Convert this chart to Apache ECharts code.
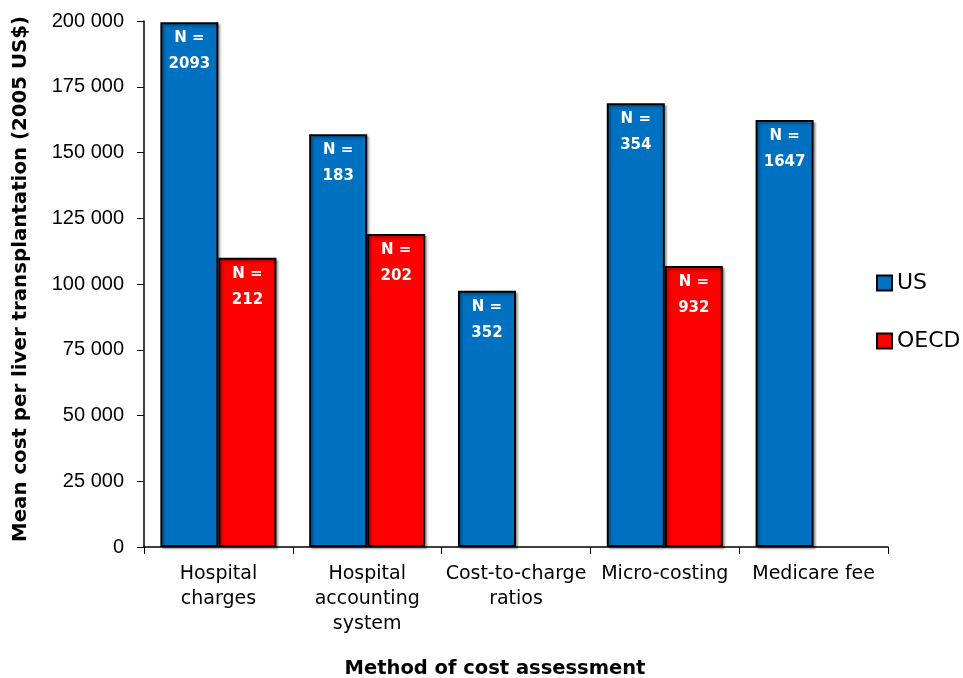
<!DOCTYPE html>
<html>
<head>
<meta charset="utf-8">
<script src="https://cdn.jsdelivr.net/npm/echarts@6/dist/echarts.min.js"></script>
<style>
  html, body { margin: 0; padding: 0; background: #fff; }
  #chart { width: 963px; height: 678px; }
</style>
</head>
<body>
<div id="chart"></div>
<script>
// Assessment methods along the x axis
const categories = [
  'Hospital\ncharges',
  'Hospital\naccounting\nsystem',
  'Cost-to-charge\nratios',
  'Micro-costing',
  'Medicare fee'
];
// Mean cost per liver transplantation (2005 US$)
const usCost   = [199500, 156900, 97450, 168700, 162350];
const oecdCost = [110000, 119000, null, 106850, null];
// Sample sizes printed inside each bar
const usN   = [2093, 183, 352, 354, 1647];
const oecdN = [212, 202, null, 932, null];
const yTicks = [0, 25000, 50000, 75000, 100000, 125000, 150000, 175000, 200000];

const fmtThousands = v => String(v).replace(/\B(?=(\d{3})+(?!\d))/g, ' ');

const barLabel = (nArr) => ({
  show: true,
  position: 'insideTop',
  distance: 3,
  color: '#fff',
  fontFamily: 'DejaVu Sans',
  fontWeight: 'bold',
  fontSize: 15,
  lineHeight: 26,
  formatter: p => nArr[p.dataIndex] == null ? '' : 'N =\n' + nArr[p.dataIndex]
});

const barStyle = (color) => ({
  color: color,
  borderColor: '#000',
  borderWidth: 2,
  shadowColor: 'rgba(0,0,0,0.3)',
  shadowOffsetX: 2,
  shadowOffsetY: 2,
  shadowBlur: 2
});

const chart = echarts.init(document.getElementById('chart'), null, { renderer: 'canvas' });
chart.setOption({
  animation: false,
  backgroundColor: '#fff',
  grid: {
    left: 144, right: 75, top: 21, bottom: 131,
    containLabel: false,
    outerBoundsMode: 'none'
  },
  legend: {
    orient: 'vertical',
    left: 871,
    top: 267,
    itemWidth: 15,
    itemHeight: 15,
    itemGap: 36,
    icon: 'rect',
    textStyle: { fontFamily: 'DejaVu Sans', fontSize: 22, color: '#000' },
    data: [
      { name: 'US', itemStyle: { color: '#0070C0', borderColor: '#000', borderWidth: 2 } },
      { name: 'OECD', itemStyle: { color: '#FF0000', borderColor: '#000', borderWidth: 2 } }
    ]
  },
  xAxis: {
    type: 'category',
    data: categories,
    name: 'Method of cost assessment',
    nameLocation: 'middle',
    nameGap: 112,
    nameTextStyle: {
      fontFamily: 'DejaVu Sans', fontWeight: 'bold', fontSize: 19.5, color: '#000',
      padding: [0, 42, 0, 0]
    },
    axisLine: { lineStyle: { color: '#000', width: 1.5 } },
    axisTick: { show: true, length: 7, lineStyle: { color: '#000' } },
    axisLabel: {
      fontFamily: 'DejaVu Sans', fontSize: 19, color: '#000',
      lineHeight: 25, margin: 15, interval: 0
    }
  },
  yAxis: {
    type: 'value',
    min: 0,
    max: 200000,
    interval: 25000,
    name: 'Mean cost per liver transplantation (2005 US$)',
    nameLocation: 'middle',
    nameGap: 113,
    nameTextStyle: {
      fontFamily: 'DejaVu Sans', fontWeight: 'bold', fontSize: 19.8, color: '#000',
      padding: [0, 0, 0, 10]
    },
    axisLine: { show: true, lineStyle: { color: '#000', width: 1.5 } },
    axisTick: { show: true, length: 7, lineStyle: { color: '#000' } },
    splitLine: { show: false },
    axisLabel: {
      fontFamily: 'Liberation Sans', fontSize: 20, color: '#000', margin: 20,
      formatter: v => yTicks.indexOf(v) >= 0 ? fmtThousands(v) : ''
    }
  },
  series: [
    {
      name: 'US',
      type: 'bar',
      data: usCost,
      barGap: '0%',
      barCategoryGap: '22%',
      itemStyle: barStyle('#0070C0'),
      label: barLabel(usN)
    },
    {
      name: 'OECD',
      type: 'bar',
      data: oecdCost,
      barGap: '0%',
      barCategoryGap: '22%',
      itemStyle: barStyle('#FF0000'),
      label: barLabel(oecdN)
    }
  ]
});
</script>
</body>
</html>
